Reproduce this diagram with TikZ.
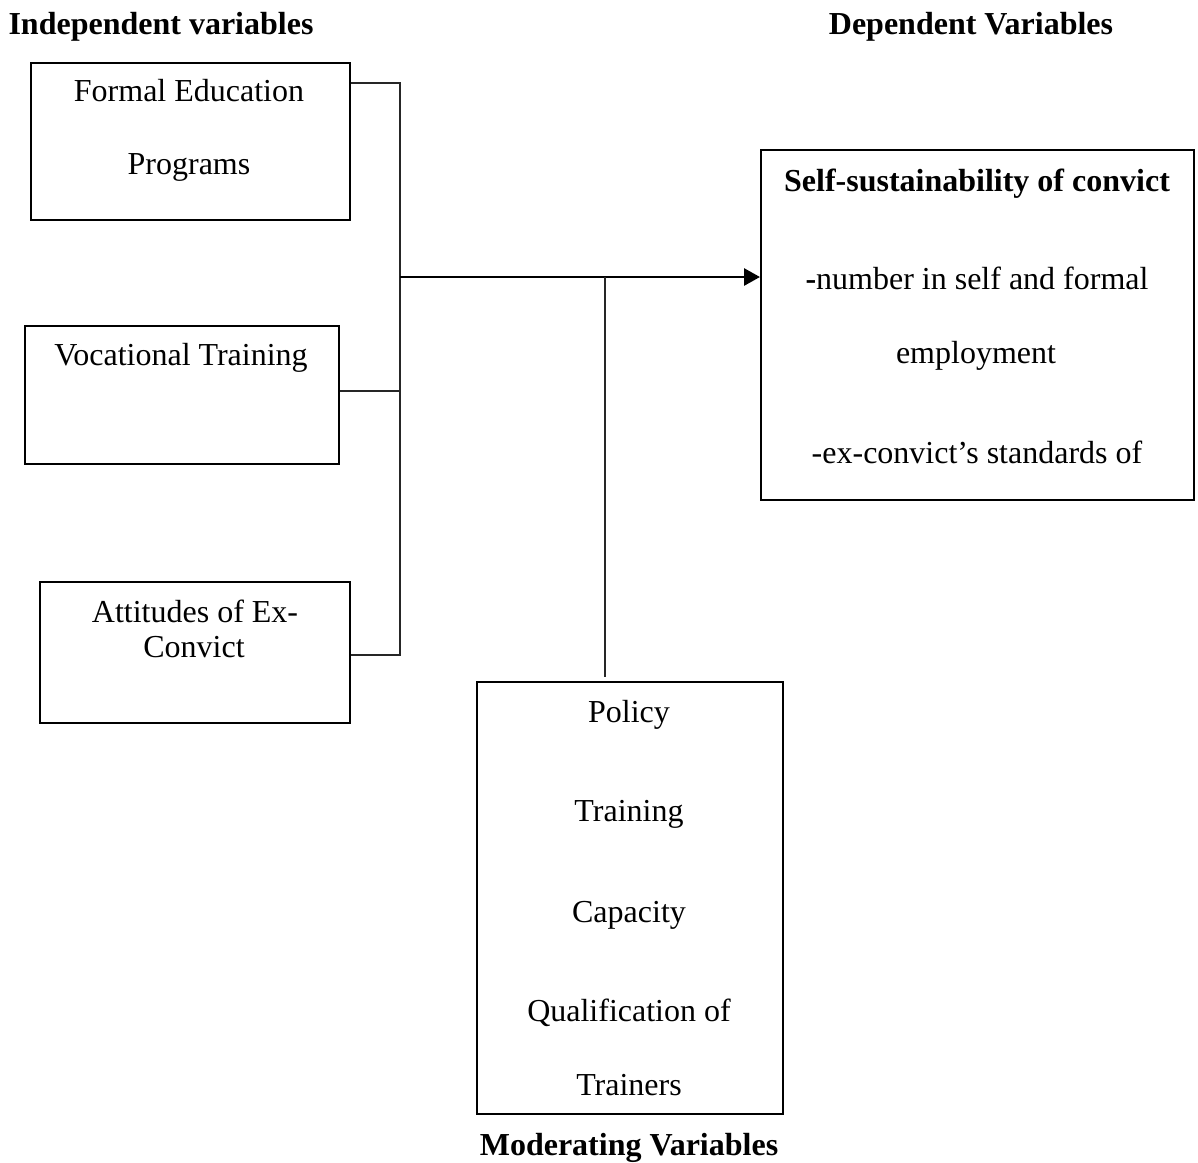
\documentclass[tikz,border=0pt]{standalone}
\usepackage{fontspec}
\setmainfont{Liberation Serif}
\usetikzlibrary{arrows.meta}
\begin{document}
\begin{tikzpicture}[x=1pt,y=-1pt,
  box/.style={draw=black,line width=2pt,anchor=north west,inner sep=0pt},
  lbl/.style={anchor=base,inner sep=0pt,font=\fontsize{32}{38}\selectfont},
  hdr/.style={anchor=base,inner sep=0pt,font=\fontsize{32}{38}\selectfont\bfseries},
  conn/.style={draw=black!85,line width=1.4pt},
  arr/.style={draw=black,line width=2.8pt,-{Triangle[length=16pt,width=17pt]}}]
\useasboundingbox (0,0) rectangle (1198,1162);
% headers
\node[hdr] (hi) at (161,34) {Independent variables};
\node[hdr] (hd) at (971,34) {Dependent Variables};
\node[hdr] (hm) at (629,1155) {Moderating Variables};
% boxes
\node[box,minimum width=319pt,minimum height=157pt] (fe) at (30,62) {};
\node[box,minimum width=314pt,minimum height=138pt] (vt) at (24,325) {};
\node[box,minimum width=310pt,minimum height=141pt] (at) at (39,581) {};
\node[box,minimum width=433pt,minimum height=350pt] (dv) at (760,149) {};
\node[box,minimum width=306pt,minimum height=432pt] (mv) at (476,681) {};
% texts
\node[lbl] (fe1) at (189,101) {Formal Education};
\node[lbl] (fe2) at (189,174) {Programs};
\node[lbl] (vt1) at (181,365) {Vocational Training};
\node[lbl] (at1) at (195,622) {Attitudes of Ex-};
\node[lbl] (at2) at (194,657) {Convict};
\node[hdr] (dv1) at (977,191) {Self-sustainability of convict};
\node[lbl] (dv2) at (977,289) {\textbf{-}number in self and formal};
\node[lbl] (dv3) at (976,363) {employment};
\node[lbl] (dv4) at (977,463) {-ex-convict’s standards of};
\node[lbl] (mv1) at (629,722) {Policy};
\node[lbl] (mv2) at (629,821) {Training};
\node[lbl] (mv3) at (629,922) {Capacity};
\node[lbl] (mv4) at (629,1021) {Qualification of};
\node[lbl] (mv5) at (629,1095) {Trainers};
% connectors
\coordinate (btop) at (400,83);
\coordinate (bmid) at (400,277);
\coordinate (bvt) at (400,391);
\coordinate (bbot) at (400,655);
\coordinate (mj) at (605,277);
\coordinate (mend) at (605,677);
\draw[conn] (fe.east |- btop) -- (btop) -- (bbot) -- (at.east |- bbot);
\draw[conn] (vt.east |- bvt) -- (bvt);
\draw[arr] (bmid) -- (dv.west |- bmid);
\draw[conn] (mj) -- (mend);
\end{tikzpicture}
\end{document}
